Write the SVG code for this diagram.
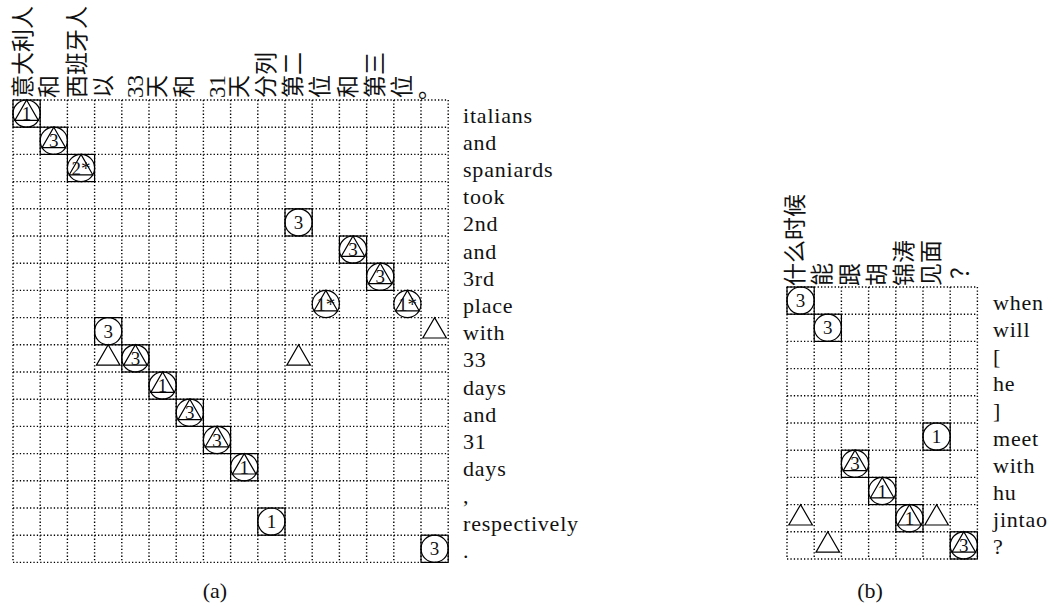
<svg xmlns="http://www.w3.org/2000/svg" xmlns:xlink="http://www.w3.org/1999/xlink" width="1054" height="609" viewBox="0 0 1054 609">
<style>
.bg{fill:#fff}
.grid{fill:none;stroke:#000;stroke-width:1.4;stroke-dasharray:1.3 2.1}
.mk{fill:none;stroke:#000;stroke-width:1.2}
.num{font-family:"Liberation Serif","DejaVu Serif",serif;font-size:19px;text-anchor:middle;fill:#111}
.lbl{font-family:"Liberation Serif","DejaVu Serif",serif;font-size:22px;letter-spacing:0.8px;fill:#111}
.hdr{font-family:"Liberation Serif","Noto Sans CJK SC",serif;font-size:23px;fill:#111}
.cap{font-family:"Liberation Serif","DejaVu Serif",serif;font-size:22px;text-anchor:middle;fill:#111}
</style>
<defs>
<rect id="box" class="mk" x="-13.6" y="-13.6" width="27.2" height="27.2"/>
<circle id="circ" class="mk" r="13.6"/>
<path id="tri" class="mk" d="M0,-13.6 L11.78,6.8 L-11.78,6.8 Z"/>
</defs>
<rect class="bg" x="0" y="0" width="1054" height="609"/>

<g id="connectors">
<path class="grid" d="M13,100H448.2M13,127.2H448.2M13,154.4H448.2M13,181.6H448.2M13,208.8H448.2M13,236H448.2M13,263.2H448.2M13,290.4H448.2M13,317.6H448.2M13,344.8H448.2M13,372H448.2M13,399.2H448.2M13,426.4H448.2M13,453.6H448.2M13,480.8H448.2M13,508H448.2M13,535.2H448.2M13,562.4H448.2"/>
<path class="grid" d="M13,100V562.4M40.2,100V562.4M67.4,100V562.4M94.6,100V562.4M121.8,100V562.4M149,100V562.4M176.2,100V562.4M203.4,100V562.4M230.6,100V562.4M257.8,100V562.4M285,100V562.4M312.2,100V562.4M339.4,100V562.4M366.6,100V562.4M393.8,100V562.4M421,100V562.4M448.2,100V562.4"/>
<path class="grid" d="M787,287H977.4M787,314.2H977.4M787,341.4H977.4M787,368.6H977.4M787,395.8H977.4M787,423H977.4M787,450.2H977.4M787,477.4H977.4M787,504.6H977.4M787,531.8H977.4M787,559H977.4"/>
<path class="grid" d="M787,287V559M814.2,287V559M841.4,287V559M868.6,287V559M895.8,287V559M923,287V559M950.2,287V559M977.4,287V559"/>
</g>

<g id="headers-a" class="hdr">
<text transform="translate(30.8,98) rotate(-90)">意大利人</text>
<text transform="translate(57.3,98) rotate(-90)">和</text>
<text transform="translate(84.5,98) rotate(-90)">西班牙人</text>
<text transform="translate(110.7,98) rotate(-90)">以</text>
<text transform="translate(142.9,98) rotate(-90)">33</text>
<text transform="translate(165.1,98) rotate(-90)">天</text>
<text transform="translate(192.3,98) rotate(-90)">和</text>
<text transform="translate(224.5,98) rotate(-90)">31</text>
<text transform="translate(246.7,98) rotate(-90)">天</text>
<text transform="translate(273.9,98) rotate(-90)">分列</text>
<text transform="translate(301.1,98) rotate(-90)">第二</text>
<text transform="translate(328.3,98) rotate(-90)">位</text>
<text transform="translate(355.5,98) rotate(-90)">和</text>
<text transform="translate(382.7,98) rotate(-90)">第三</text>
<text transform="translate(409.9,98) rotate(-90)">位</text>
<text x="418" y="97">。</text>
</g>

<g id="rows-a" class="lbl">
<text x="463" y="122.6">italians</text>
<text x="463" y="149.8">and</text>
<text x="463" y="177">spaniards</text>
<text x="463" y="204.2">took</text>
<text x="463" y="231.4">2nd</text>
<text x="463" y="258.6">and</text>
<text x="463" y="285.8">3rd</text>
<text x="463" y="313">place</text>
<text x="463" y="340.2">with</text>
<text x="463" y="367.4">33</text>
<text x="463" y="394.6">days</text>
<text x="463" y="421.8">and</text>
<text x="463" y="449">31</text>
<text x="463" y="476.2">days</text>
<text x="463" y="503.4">,</text>
<text x="463" y="530.6">respectively</text>
<text x="463" y="557.8">.</text>
</g>

<g id="a-n1" transform="translate(26.6,113.6)"><use xlink:href="#box"/><use xlink:href="#circ"/><use xlink:href="#tri"/><text class="num" y="6.5">1</text></g>
<g id="a-n2" transform="translate(53.8,140.8)"><use xlink:href="#box"/><use xlink:href="#circ"/><use xlink:href="#tri"/><text class="num" y="6.5">3</text></g>
<g id="a-n3" transform="translate(81,168)"><use xlink:href="#box"/><use xlink:href="#circ"/><use xlink:href="#tri"/><text class="num" y="6.5">2*</text></g>
<g id="a-n4" transform="translate(298.6,222.4)"><use xlink:href="#box"/><use xlink:href="#circ"/><text class="num" y="6.5">3</text></g>
<g id="a-n5" transform="translate(353,249.6)"><use xlink:href="#box"/><use xlink:href="#circ"/><use xlink:href="#tri"/><text class="num" y="6.5">3</text></g>
<g id="a-n6" transform="translate(380.2,276.8)"><use xlink:href="#box"/><use xlink:href="#circ"/><use xlink:href="#tri"/><text class="num" y="6.5">3</text></g>
<g id="a-n7" transform="translate(325.8,304)"><use xlink:href="#circ"/><use xlink:href="#tri"/><text class="num" y="6.5">1*</text></g>
<g id="a-n8" transform="translate(407.4,304)"><use xlink:href="#circ"/><use xlink:href="#tri"/><text class="num" y="6.5">1*</text></g>
<g id="a-n9" transform="translate(108.2,331.2)"><use xlink:href="#box"/><use xlink:href="#circ"/><text class="num" y="6.5">3</text></g>
<g id="a-n10" transform="translate(434.6,331.2)"><use xlink:href="#tri"/></g>
<g id="a-n11" transform="translate(108.2,358.4)"><use xlink:href="#tri"/></g>
<g id="a-n12" transform="translate(135.4,358.4)"><use xlink:href="#box"/><use xlink:href="#circ"/><use xlink:href="#tri"/><text class="num" y="6.5">3</text></g>
<g id="a-n13" transform="translate(298.6,358.4)"><use xlink:href="#tri"/></g>
<g id="a-n14" transform="translate(162.6,385.6)"><use xlink:href="#box"/><use xlink:href="#circ"/><use xlink:href="#tri"/><text class="num" y="6.5">1</text></g>
<g id="a-n15" transform="translate(189.8,412.8)"><use xlink:href="#box"/><use xlink:href="#circ"/><use xlink:href="#tri"/><text class="num" y="6.5">3</text></g>
<g id="a-n16" transform="translate(217,440)"><use xlink:href="#box"/><use xlink:href="#circ"/><use xlink:href="#tri"/><text class="num" y="6.5">3</text></g>
<g id="a-n17" transform="translate(244.2,467.2)"><use xlink:href="#box"/><use xlink:href="#circ"/><use xlink:href="#tri"/><text class="num" y="6.5">1</text></g>
<g id="a-n18" transform="translate(271.4,521.6)"><use xlink:href="#box"/><use xlink:href="#circ"/><text class="num" y="6.5">1</text></g>
<g id="a-n19" transform="translate(434.6,548.8)"><use xlink:href="#box"/><use xlink:href="#circ"/><text class="num" y="6.5">3</text></g>

<g id="headers-b" class="hdr">
<text transform="translate(803.1,286) rotate(-90)">什么时候</text>
<text transform="translate(830.3,286) rotate(-90)">能</text>
<text transform="translate(857.5,286) rotate(-90)">跟</text>
<text transform="translate(884.7,286) rotate(-90)">胡</text>
<text transform="translate(911.9,286) rotate(-90)">锦涛</text>
<text transform="translate(939.1,286) rotate(-90)">见面</text>
<text transform="translate(968.3,279) rotate(-90)">？</text>
</g>

<g id="rows-b" class="lbl">
<text x="993" y="309.6">when</text>
<text x="993" y="336.8">will</text>
<text x="993" y="364">[</text>
<text x="993" y="391.2">he</text>
<text x="993" y="418.4">]</text>
<text x="993" y="445.6">meet</text>
<text x="993" y="472.8">with</text>
<text x="993" y="500">hu</text>
<text x="993" y="527.2">jintao</text>
<text x="993" y="554.4">?</text>
</g>

<g id="b-n1" transform="translate(800.6,300.6)"><use xlink:href="#box"/><use xlink:href="#circ"/><text class="num" y="6.5">3</text></g>
<g id="b-n2" transform="translate(827.8,327.8)"><use xlink:href="#box"/><use xlink:href="#circ"/><text class="num" y="6.5">3</text></g>
<g id="b-n3" transform="translate(936.6,436.6)"><use xlink:href="#box"/><use xlink:href="#circ"/><text class="num" y="6.5">1</text></g>
<g id="b-n4" transform="translate(855,463.8)"><use xlink:href="#box"/><use xlink:href="#circ"/><use xlink:href="#tri"/><text class="num" y="6.5">3</text></g>
<g id="b-n5" transform="translate(882.2,491)"><use xlink:href="#box"/><use xlink:href="#circ"/><use xlink:href="#tri"/><text class="num" y="6.5">1</text></g>
<g id="b-n6" transform="translate(800.6,518.2)"><use xlink:href="#tri"/></g>
<g id="b-n7" transform="translate(909.4,518.2)"><use xlink:href="#box"/><use xlink:href="#circ"/><use xlink:href="#tri"/><text class="num" y="6.5">1</text></g>
<g id="b-n8" transform="translate(936.6,518.2)"><use xlink:href="#tri"/></g>
<g id="b-n9" transform="translate(827.8,545.4)"><use xlink:href="#tri"/></g>
<g id="b-n10" transform="translate(963.8,545.4)"><use xlink:href="#box"/><use xlink:href="#circ"/><use xlink:href="#tri"/><text class="num" y="6.5">3</text></g>

<g id="captions">
<text class="cap" x="215" y="598">(a)</text>
<text class="cap" x="870" y="598">(b)</text>
</g>
</svg>
